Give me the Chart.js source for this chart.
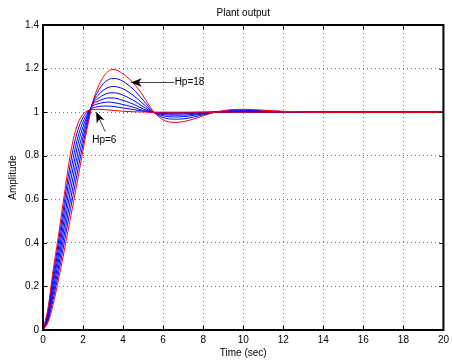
<!DOCTYPE html>
<html>
<head>
<meta charset="utf-8">
<script src="https://cdn.jsdelivr.net/npm/chart.js@4/dist/chart.umd.min.js"></script>
<style>
  html, body { margin: 0; padding: 0; background: #fff; }
  #wrap { width: 453px; height: 360px; }
</style>
</head>
<body>
<div id="wrap"><canvas id="c" width="453" height="360"></canvas></div>
<script>
// ---- data ----
const time = [0,0.25,0.5,0.75,1,1.25,1.5,1.75,2,2.25,2.5,2.75,3,3.25,3.5,3.75,4,4.5,5,5.5,6,6.5,7,7.5,8,8.5,9,9.5,10,11,12,13,14,16,18,20];

const hp6  = [0,0.10,0.27,0.42,0.58,0.74,0.87,0.95,0.99,1.007,1.012,1.013,1.012,1.010,1.008,1.006,1.004,1.002,1.001,1,1,1,1,1,1,1,1,1,1,1,1,1,1,1,1,1];
const hpB1 = [0,0.09,0.248,0.391,0.545,0.699,0.828,0.92,0.975,1.005,1.02,1.025,1.028,1.028,1.026,1.023,1.019,1.012,1.004,0.999,0.998,0.998,0.998,0.999,1,1,1,1,1,1,1,1,1,1,1,1];
const hpB2 = [0,0.081,0.226,0.363,0.51,0.659,0.786,0.888,0.955,0.999,1.03,1.038,1.044,1.046,1.044,1.04,1.035,1.023,1.008,0.999,0.996,0.995,0.996,0.997,0.999,1,1,1.001,1.001,1,1,1,1,1,1,1];
const hpB3 = [0,0.071,0.204,0.334,0.475,0.618,0.744,0.855,0.933,0.992,1.037,1.05,1.06,1.065,1.065,1.061,1.054,1.037,1.015,0.999,0.993,0.991,0.992,0.994,0.997,1,1.001,1.002,1.002,1.001,1,1,1,1,1,1];
const hpB4 = [0,0.062,0.181,0.306,0.44,0.577,0.701,0.818,0.908,0.984,1.042,1.062,1.078,1.087,1.089,1.086,1.078,1.055,1.025,0.999,0.989,0.986,0.986,0.99,0.995,1,1.002,1.003,1.004,1.003,1.001,1,1,1,1,1];
const hpB5 = [0,0.053,0.159,0.277,0.405,0.536,0.659,0.78,0.882,0.973,1.046,1.077,1.1,1.113,1.118,1.115,1.107,1.078,1.038,1.0,0.983,0.978,0.979,0.985,0.992,0.999,1.003,1.005,1.006,1.004,1.002,1,1,1,1,1];
const hpB6 = [0,0.044,0.137,0.249,0.37,0.496,0.617,0.74,0.854,0.96,1.049,1.095,1.13,1.148,1.155,1.152,1.141,1.106,1.055,1.002,0.975,0.968,0.969,0.977,0.988,0.998,1.005,1.008,1.009,1.006,1.003,1.001,1,1,1,1];
const hp18 = [0,0.035,0.115,0.22,0.335,0.455,0.575,0.70,0.825,0.945,1.05,1.115,1.16,1.187,1.196,1.19,1.175,1.135,1.075,1.005,0.965,0.953,0.956,0.968,0.983,0.997,1.007,1.012,1.013,1.009,1.004,1.001,1,1,1,1];

const xTickValues = [0,2,4,6,8,10,12,14,16,18,20];
const xTickLabels = ['0','2','4','6','8','10','12','14','16','18','20'];
const yTickValues = [0,0.2,0.4,0.6,0.8,1,1.2,1.4];
const yTickLabels = ['0','0.2','0.4','0.6','0.8','1','1.2','1.4'];

// annotation anchors (data coordinates)
const noteHp18 = { text: 'Hp=18', tip: [4.38, 1.137], tail: [6.55, 1.137] };
const noteHp6  = { text: 'Hp=6',  tip: [2.65, 1.002], tail: [3.11, 0.910], label: [3.06, 0.872] };

// ---- chart ----
const FONT = '"Liberation Sans", Arial, Helvetica, sans-serif';
Chart.defaults.font.family = FONT;
Chart.defaults.font.size = 10;
Chart.defaults.color = '#000';

const pts = arr => time.map((t, i) => ({ x: t, y: arr[i] }));
const mk = (label, arr, color) => ({
  label, data: pts(arr), borderColor: color, borderWidth: 1,
  pointRadius: 0, fill: false, cubicInterpolationMode: 'monotone'
});

function drawArrow(ctx, tx, ty, sx, sy) {
  const ang = Math.atan2(sy - ty, sx - tx);
  const L = 11, W = 4.3, N = 8;
  const cos = Math.cos(ang), sin = Math.sin(ang);
  const P = (a, b) => [tx + a * cos - b * sin, ty + a * sin + b * cos];
  ctx.strokeStyle = '#444';
  ctx.lineWidth = 1;
  ctx.beginPath();
  const b = P(N, 0);
  ctx.moveTo(b[0], b[1]);
  ctx.lineTo(sx, sy);
  ctx.stroke();
  ctx.fillStyle = '#000';
  ctx.beginPath();
  let p = P(0, 0); ctx.moveTo(p[0], p[1]);
  p = P(L, W); ctx.lineTo(p[0], p[1]);
  p = P(N, 0); ctx.lineTo(p[0], p[1]);
  p = P(L, -W); ctx.lineTo(p[0], p[1]);
  ctx.closePath();
  ctx.fill();
}

const framePlugin = {
  id: 'frame',
  afterDraw(chart) {
    const { ctx, chartArea: a, scales: { x, y } } = chart;
    ctx.save();
    ctx.strokeStyle = '#000';
    ctx.lineWidth = 1;
    ctx.beginPath();
    xTickValues.forEach(v => {
      const px = Math.round(x.getPixelForValue(v)) + 0.5;
      ctx.moveTo(px, a.bottom); ctx.lineTo(px, a.bottom - 4);
      ctx.moveTo(px, a.top); ctx.lineTo(px, a.top + 4);
    });
    yTickValues.forEach(v => {
      const py = Math.round(y.getPixelForValue(v)) + 0.5;
      ctx.moveTo(a.left, py); ctx.lineTo(a.left + 4, py);
      ctx.moveTo(a.right, py); ctx.lineTo(a.right - 4, py);
    });
    ctx.stroke();
    ctx.lineWidth = 2;
    ctx.strokeRect(a.left, a.top, a.right - a.left, a.bottom - a.top);

    // annotations
    const X = v => x.getPixelForValue(v), Y = v => y.getPixelForValue(v);
    const t18 = [X(noteHp18.tip[0]), Math.round(Y(noteHp18.tip[1])) + 0.5];
    const s18 = [X(noteHp18.tail[0]), Math.round(Y(noteHp18.tail[1])) + 0.5];
    drawArrow(ctx, t18[0], t18[1], s18[0], s18[1]);
    ctx.fillStyle = '#000';
    ctx.font = '10px ' + FONT;
    ctx.textAlign = 'left';
    ctx.textBaseline = 'middle';
    ctx.fillText(noteHp18.text, s18[0] + 0.5, s18[1]);

    drawArrow(ctx, X(noteHp6.tip[0]), Y(noteHp6.tip[1]), X(noteHp6.tail[0]), Y(noteHp6.tail[1]));
    ctx.fillStyle = '#000';
    ctx.textAlign = 'center';
    ctx.fillText(noteHp6.text, X(noteHp6.label[0]), Y(noteHp6.label[1]));
    ctx.restore();
  }
};

new Chart(document.getElementById('c'), {
  type: 'line',
  data: {
    datasets: [
      mk('Hp=6', hp6, '#ff0000'),
      mk('Hp=18', hp18, '#ff0000'),
      mk('Hp B1', hpB1, '#0000ff'),
      mk('Hp B2', hpB2, '#0000ff'),
      mk('Hp B3', hpB3, '#0000ff'),
      mk('Hp B4', hpB4, '#0000ff'),
      mk('Hp B5', hpB5, '#0000ff'),
      mk('Hp B6', hpB6, '#0000ff')
    ]
  },
  options: {
    responsive: false,
    animation: false,
    events: [],
    layout: { padding: { left: 0, right: 5, top: 0, bottom: 0 } },
    plugins: {
      legend: { display: false },
      tooltip: { enabled: false },
      title: {
        display: true, text: 'Plant output', fullSize: false,
        font: { size: 10, weight: 'normal' }, color: '#000',
        padding: { top: 7, bottom: 6 }
      }
    },
    scales: {
      x: {
        type: 'linear', min: 0, max: 20,
        afterFit: s => { s.height = 30; },
        afterBuildTicks: s => { s.ticks = xTickValues.map(v => ({ value: v })); },
        ticks: { padding: 4, maxRotation: 0, autoSkip: false, color: '#000',
                 callback: (v, i) => xTickLabels[i] },
        grid: { color: '#7a7a7a', lineWidth: 1, drawTicks: false },
        border: { display: false, dash: [1, 3] },
        title: { display: true, text: 'Time (sec)', font: { size: 10 }, color: '#000', padding: { top: 0, bottom: 1 } }
      },
      y: {
        type: 'linear', min: 0, max: 1.4,
        afterFit: s => { s.width = 43; },
        afterBuildTicks: s => { s.ticks = yTickValues.map(v => ({ value: v })); },
        ticks: { padding: 4, autoSkip: false, color: '#000',
                 callback: (v, i) => yTickLabels[i] },
        grid: { color: '#7a7a7a', lineWidth: 1, drawTicks: false },
        border: { display: false, dash: [1, 3] },
        title: { display: true, text: 'Amplitude', font: { size: 10 }, color: '#000', padding: { top: 7, bottom: 0 } }
      }
    }
  },
  plugins: [framePlugin]
});
</script>
</body>
</html>
